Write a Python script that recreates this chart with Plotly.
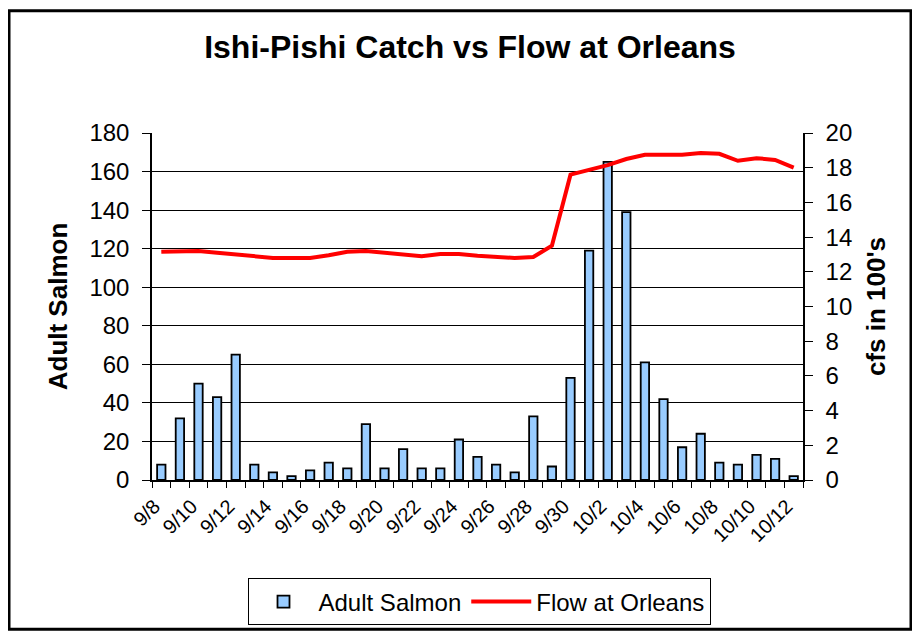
import plotly.graph_objects as go

dates = ["9/8", "9/9", "9/10", "9/11", "9/12", "9/13", "9/14", "9/15", "9/16", "9/17",
         "9/18", "9/19", "9/20", "9/21", "9/22", "9/23", "9/24", "9/25", "9/26", "9/27",
         "9/28", "9/29", "9/30", "10/1", "10/2", "10/3", "10/4", "10/5", "10/6", "10/7",
         "10/8", "10/9", "10/10", "10/11", "10/12"]
adult_salmon = [8, 32, 50, 43, 65, 8, 4, 2, 5, 9,
                6, 29, 6, 16, 6, 6, 21, 12, 8, 4,
                33, 7, 53, 119, 165, 139, 61, 42, 17, 24,
                9, 8, 13, 11, 2]
flow_orleans = [13.15, 13.2, 13.2, 13.1, 13.0, 12.9, 12.8, 12.8, 12.8, 12.95,
                13.15, 13.2, 13.1, 13.0, 12.9, 13.03, 13.03, 12.92, 12.85, 12.8,
                12.85, 13.5, 17.6, 17.85, 18.15, 18.5, 18.75, 18.75, 18.75, 18.85,
                18.8, 18.4, 18.55, 18.45, 18.0]
tick_text = [d if i % 2 == 0 else "" for i, d in enumerate(dates)]

FONT = "Arial, Liberation Sans, sans-serif"

fig = go.Figure()
fig.add_trace(go.Bar(
    x=dates, y=adult_salmon, name="Adult Salmon",
    marker=dict(color="#99CCFF", line=dict(color="black", width=1.8)),
    yaxis="y",
))
fig.add_trace(go.Scatter(
    x=dates, y=flow_orleans, name="Flow at Orleans", mode="lines",
    line=dict(color="#FF0000", width=4),
    yaxis="y2",
))

OFF = 8  # page body margin
W, H = 920 - OFF, 638 - OFF
L, R, T, B = 152 - OFF, 803 - OFF, 133 - OFF, 482 - OFF
pw, ph = R - L, B - T

def px(x):
    return (x - OFF - L) / pw

def py(y):
    return (B - (y - OFF)) / ph

fig.update_layout(
    width=W, height=H,
    margin=dict(l=L, r=W - R, t=T, b=H - B),
    paper_bgcolor="white", plot_bgcolor="white",
    font=dict(family=FONT, size=24, color="black"),
    title=dict(text="<b>Ishi-Pishi Catch vs Flow at Orleans</b>",
               x=(470 - OFF) / W, xanchor="center", xref="container",
               y=1 - (47 - OFF) / H, yanchor="middle", yref="container",
               font=dict(size=32, family=FONT, color="black")),
    bargap=0.55,
    showlegend=True,
    legend=dict(orientation="h", x=px(479), xanchor="center",
                y=py(581), yanchor="top",
                bordercolor="black", borderwidth=1,
                font=dict(size=24, family=FONT), itemwidth=60,
                traceorder="normal"),
    xaxis=dict(type="category", tickmode="array", tickvals=dates, ticktext=tick_text,
               tickangle=-45, tickson="boundaries", ticks="outside", ticklen=6,
               tickcolor="black", showline=True, linecolor="black", linewidth=1.5,
               showgrid=False, tickfont=dict(size=20),
               ticklabelshift=-7, ticklabelstandoff=5,
               range=[-0.5, len(dates) - 0.5]),
    yaxis=dict(range=[0, 180], dtick=20, showgrid=True, gridcolor="black", gridwidth=1,
               ticks="outside", ticklen=8, tickcolor="black",
               showline=True, linecolor="black", linewidth=1.5,
               ticklabelstandoff=8,
               title=dict(text="<b>Adult Salmon</b>", font=dict(size=26), standoff=14),
               zeroline=False, tickfont=dict(size=24)),
    yaxis2=dict(range=[0, 20], dtick=2, overlaying="y", side="right", showgrid=False,
                ticks="outside", ticklen=8, tickcolor="black",
                showline=True, linecolor="black", linewidth=1.5,
                ticklabelstandoff=8,
                title=dict(text="<b>cfs in 100's</b>", font=dict(size=26), standoff=16),
                zeroline=False, tickfont=dict(size=24)),
    shapes=[dict(type="rect", xref="paper", yref="paper",
                 x0=px(9), x1=px(911), y0=py(632), y1=py(10),
                 line=dict(color="black", width=3), fillcolor="rgba(0,0,0,0)",
                 layer="below")],
)

fig.write_html("out.html")
